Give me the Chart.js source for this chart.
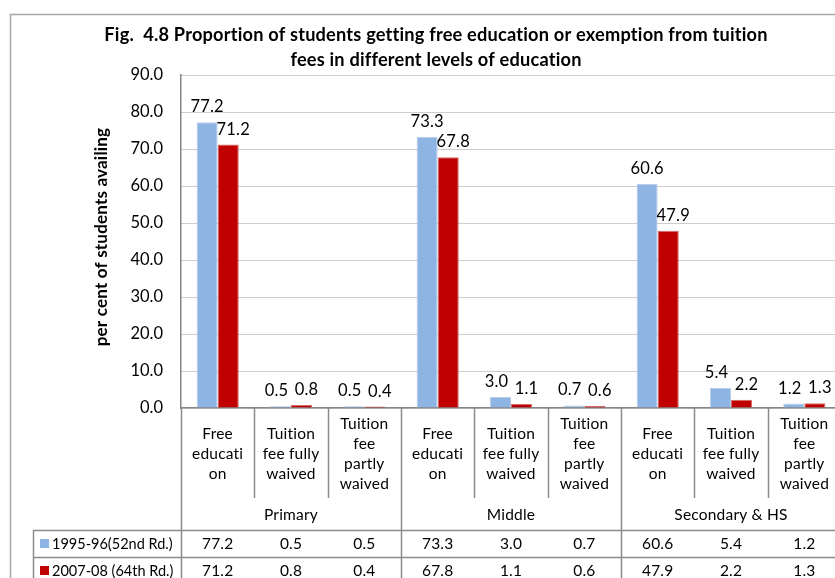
<!DOCTYPE html>
<html><head><meta charset="utf-8">
<script src="https://cdn.jsdelivr.net/npm/chart.js@4"></script>
<style>html,body{margin:0;padding:0;overflow:hidden;background:#fff}#wrap{width:850px;height:578px;position:relative}</style>
</head><body><div id="wrap"><canvas id="c" width="850" height="578" style="width:850px;height:578px"></canvas></div>
<script>
const categories = [
  ["Free","educati","on"], ["Tuition","fee fully","waived"], ["Tuition","fee","partly","waived"],
  ["Free","educati","on"], ["Tuition","fee fully","waived"], ["Tuition","fee","partly","waived"],
  ["Free","educati","on"], ["Tuition","fee fully","waived"], ["Tuition","fee","partly","waived"]
];
const groups = ["Primary", "Middle", "Secondary & HS"];
const series1Name = "1995-96(52nd Rd.)";
const series2Name = "2007-08 (64th Rd.)";
const series1 = [77.2, 0.5, 0.5, 73.3, 3.0, 0.7, 60.6, 5.4, 1.2];
const series2 = [71.2, 0.8, 0.4, 67.8, 1.1, 0.6, 47.9, 2.2, 1.3];
const yMin = 0, yMax = 90, yStep = 10;
const titleLines = ["Fig.  4.8 Proportion of students getting free education or exemption from tuition",
                    "fees in different levels of education"];
const yTitle = "per cent of students availing";

const FONT = "Lato, 'Open Sans', sans-serif";
const colors = ["#8EB4E3", "#C00000"];
const borders = ["#B9CDE5", "#D46A6A"];
const LINE = "#8c8c8c";

const extras = {
  id: 'extras',
  afterDraw(chart) {
    const ctx = chart.ctx;
    const ca = chart.chartArea;
    const xs = chart.scales.x;
    const n = categories.length;
    const cw = (ca.right - ca.left) / n;
    ctx.save();
    try { ctx.letterSpacing = "0.2px"; } catch (e) {}
    // outer frame
    ctx.strokeStyle = "#a6a6a6"; ctx.lineWidth = 1.5;
    ctx.beginPath(); ctx.moveTo(10.5, 600); ctx.lineTo(10.5, 14.5); ctx.lineTo(860, 14.5); ctx.stroke();
    // title
    ctx.fillStyle = "#000"; ctx.textAlign = "center"; ctx.textBaseline = "middle";
    ctx.font = "bold 18.2px " + FONT;
    ctx.fillText(titleLines[0], 436, 35);
    ctx.fillText(titleLines[1], 436, 60);
    // y title
    ctx.save(); ctx.translate(102, 237); ctx.rotate(-Math.PI/2);
    ctx.font = "bold 17px " + FONT; ctx.fillText(yTitle, 0, 0); ctx.restore();
    // data labels
    ctx.font = "16.5px " + FONT; ctx.textBaseline = "alphabetic";
    [series1, series2].forEach((arr, di) => {
      const meta = chart.getDatasetMeta(di);
      meta.data.forEach((bar, i) => {
        const dx = di === 0 ? (arr[i] < 10 ? -4 : 0) : 5;
        ctx.fillText(arr[i].toFixed(1), bar.x + dx, bar.y - 10);
      });
    });
    // table
    ctx.strokeStyle = LINE; ctx.lineWidth = 1.5;
    const bot = ca.bottom;
    ctx.beginPath();
    for (let k = 0; k <= n; k++) {
      const x = Math.round(ca.left + k * cw) + 0.5;
      if (k % 3 === 0) { ctx.moveTo(x, bot); ctx.lineTo(x, 600); }
      else { ctx.moveTo(x, bot); ctx.lineTo(x, 498); }
    }
    ctx.moveTo(33.5, 530); ctx.lineTo(33.5, 600);
    ctx.moveTo(33, 530.5); ctx.lineTo(860, 530.5);
    ctx.moveTo(33, 557.5); ctx.lineTo(860, 557.5);
    ctx.moveTo(33, 585.5); ctx.lineTo(860, 585.5);
    ctx.stroke();
    // category labels
    ctx.fillStyle = "#000"; ctx.textBaseline = "middle"; ctx.textAlign = "center";
    ctx.font = "15.5px " + FONT;
    categories.forEach((lines, i) => {
      const cx = xs.getPixelForValue(i);
      const lh = 20, cy = 454;
      const y0 = cy - (lines.length - 1) * lh / 2;
      lines.forEach((t, j) => ctx.fillText(t, cx, y0 + j * lh));
    });
    groups.forEach((g, gi) => {
      ctx.fillText(g, ca.left + (gi * 3 + 1.5) * cw, 515);
    });
    // rows
    [[series1Name, series1, 544], [series2Name, series2, 571]].forEach(([name, arr, y], ri) => {
      ctx.fillStyle = colors[ri]; ctx.fillRect(40, y - 5, 9, 9);
      ctx.fillStyle = "#000"; ctx.textAlign = "left";
      ctx.font = "14.5px " + FONT;
      try { ctx.letterSpacing = "0px"; } catch (e) {}
      ctx.fillText(name, 52, y);
      try { ctx.letterSpacing = "0.2px"; } catch (e) {}
      ctx.textAlign = "center";
      ctx.font = "15.5px " + FONT;
      arr.forEach((v, i) => ctx.fillText(v.toFixed(1), xs.getPixelForValue(i), y));
    });
    ctx.restore();
  }
};

new Chart(document.getElementById('c'), {
  type: 'bar',
  data: {
    labels: categories.map(c => c.join(' ')),
    datasets: [
      { label: series1Name, data: series1, backgroundColor: colors[0], borderColor: borders[0], borderWidth: 1 },
      { label: series2Name, data: series2, backgroundColor: colors[1], borderColor: borders[1], borderWidth: 1 }
    ]
  },
  options: {
    responsive: false, animation: false,
    layout: { padding: { left: 0, top: 75, right: 9, bottom: 0 } },
    datasets: { bar: { categoryPercentage: 0.575, barPercentage: 1.0 } },
    plugins: { legend: { display: false }, title: { display: false }, tooltip: { enabled: false } },
    scales: {
      x: {
        grid: { display: false },
        ticks: { display: false },
        border: { display: true, color: "#868686", width: 1.5 },
        afterFit(s) { s.height = 170; }
      },
      y: {
        min: yMin, max: yMax,
        ticks: { stepSize: yStep, padding: 18, color: "#000", font: { family: FONT, size: 16.5 },
                 callback: v => Number(v).toFixed(1) },
        grid: { color: "#9a9a9a", lineWidth: 1, drawTicks: false },
        border: { display: true, color: "#868686", width: 1.5, dash: [1, 1] },
        afterFit(s) { s.width = 181; }
      }
    }
  },
  plugins: [extras]
});
</script></body></html>
